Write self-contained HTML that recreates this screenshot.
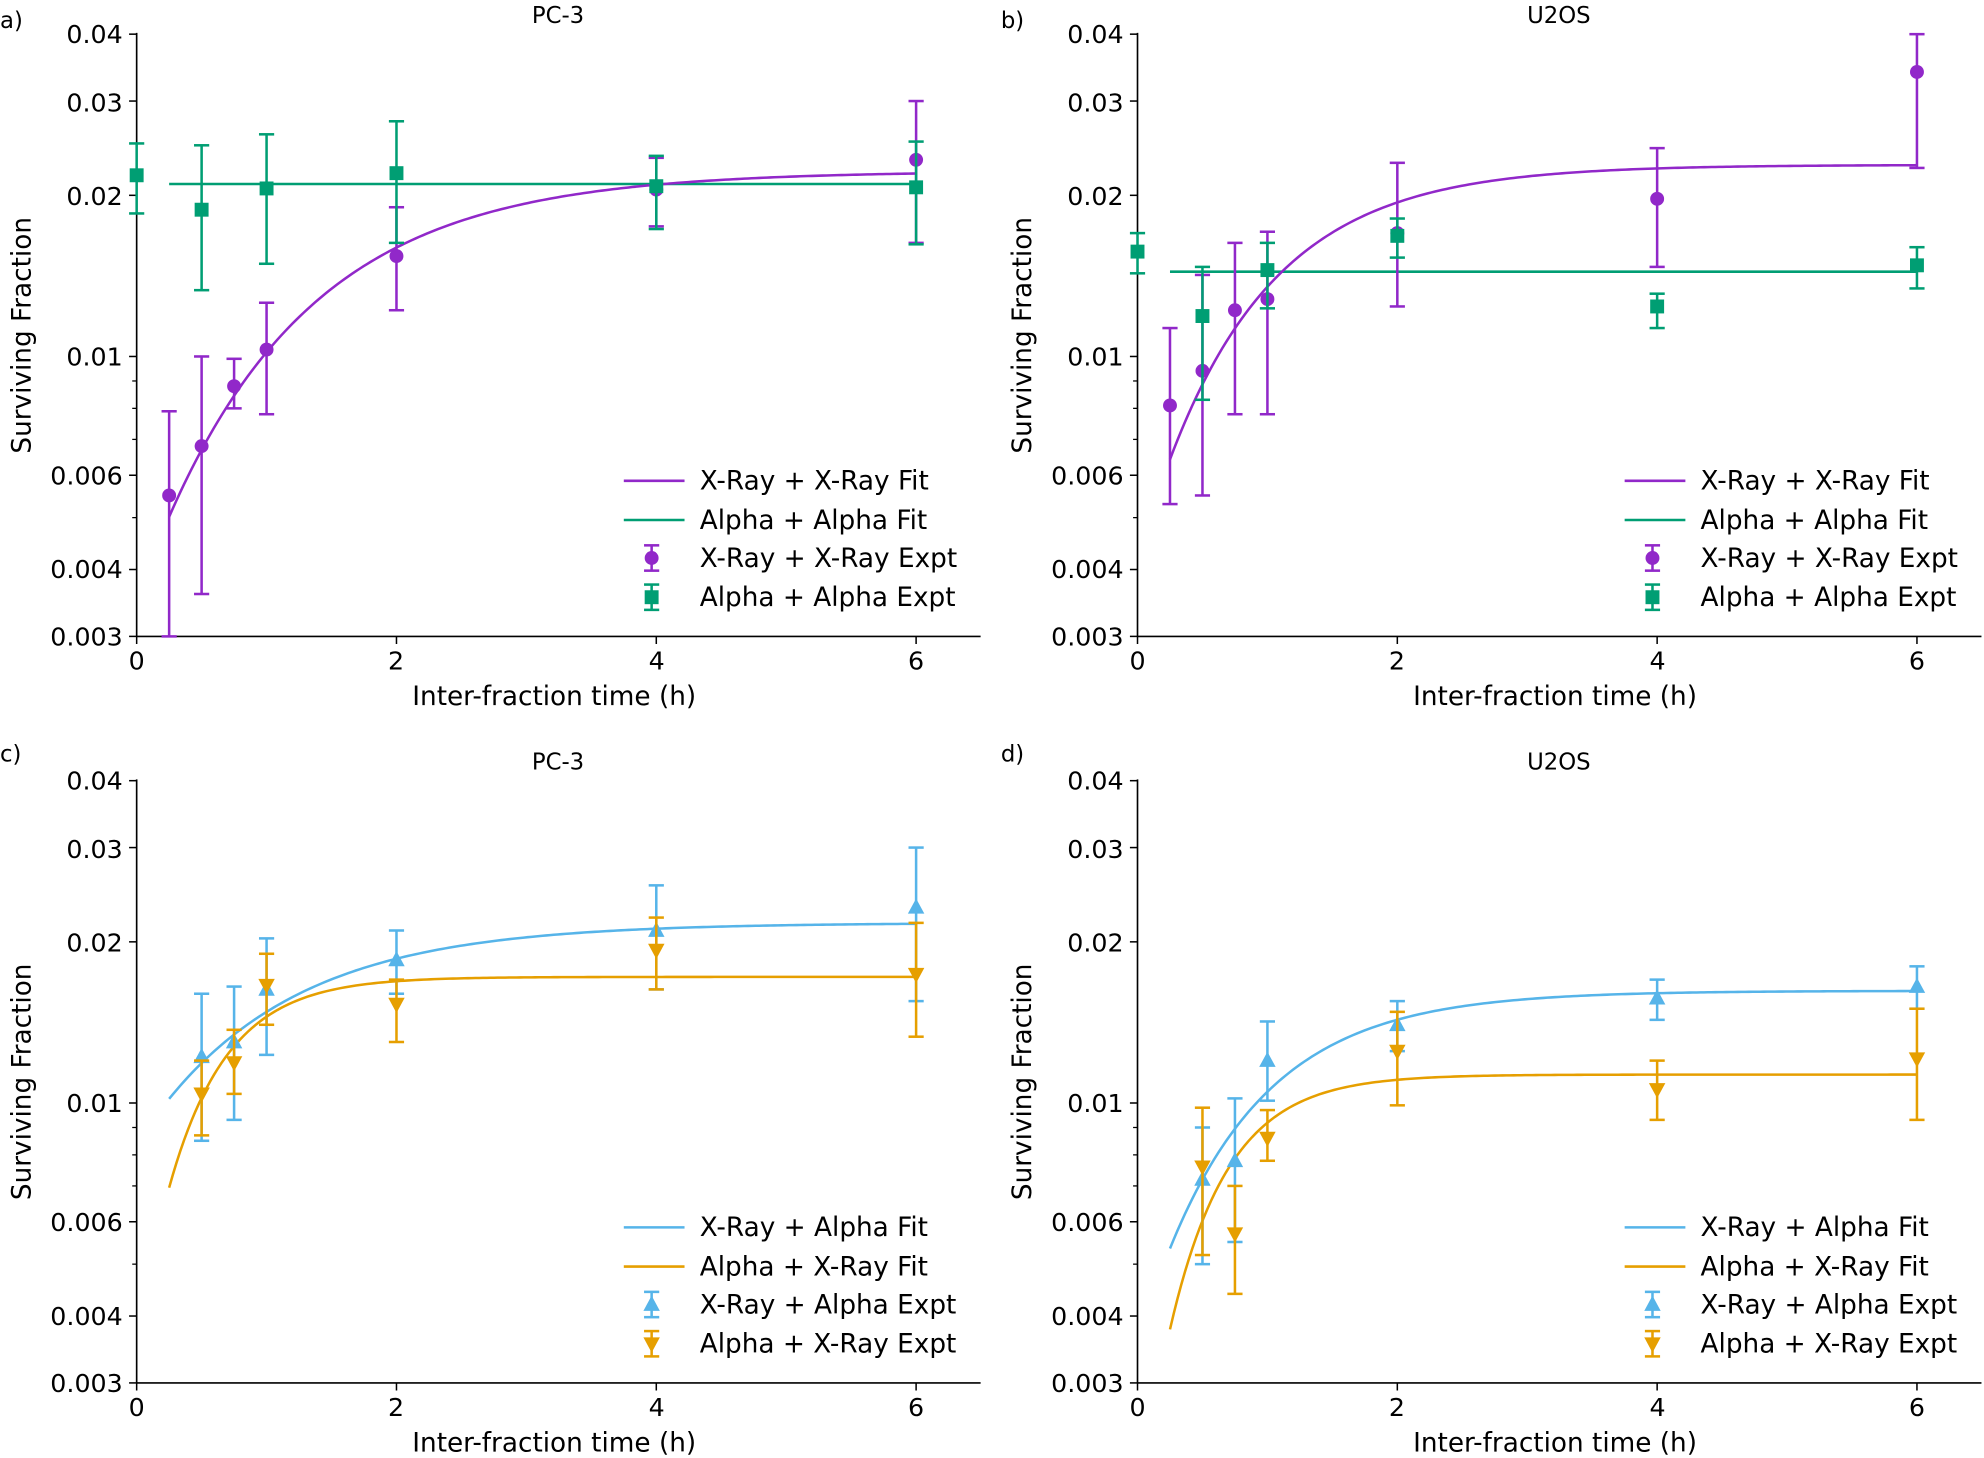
<!DOCTYPE html>
<html><head><meta charset="utf-8"><style>
html,body{margin:0;padding:0;background:#fff}
svg{display:block}
text{font-family:"DejaVu Sans","Liberation Sans",sans-serif;fill:#000}
.t{font-size:20px}
.pl{font-size:18px}
.ti{font-size:18px}
.al{font-size:20.8px}
.lg{font-size:20.8px}
</style></head><body>
<svg id="s" width="1984" height="1458" viewBox="0 0 1568 1152.3" xmlns="http://www.w3.org/2000/svg">
<g id="g"></g>
<g id="txt">
<text x="0" y="22" class="pl">a)</text><text x="441" y="18" class="ti" text-anchor="middle">PC-3</text>
<text x="791" y="22" class="pl">b)</text><text x="1232" y="18" class="ti" text-anchor="middle">U2OS</text>
<text x="0" y="602" class="pl">c)</text><text x="441" y="608" class="ti" text-anchor="middle">PC-3</text>
<text x="791" y="602" class="pl">d)</text><text x="1232" y="608" class="ti" text-anchor="middle">U2OS</text>

<text x="438" y="557" class="al" text-anchor="middle">Inter-fraction time (h)</text>
<text x="1229" y="557" class="al" text-anchor="middle">Inter-fraction time (h)</text>
<text x="438" y="1147" class="al" text-anchor="middle">Inter-fraction time (h)</text>
<text x="1229" y="1147" class="al" text-anchor="middle">Inter-fraction time (h)</text>
<text transform="translate(24,265) rotate(-90)" class="al" text-anchor="middle">Surviving Fraction</text>
<text transform="translate(815,265) rotate(-90)" class="al" text-anchor="middle">Surviving Fraction</text>
<text transform="translate(24,855) rotate(-90)" class="al" text-anchor="middle">Surviving Fraction</text>
<text transform="translate(815,855) rotate(-90)" class="al" text-anchor="middle">Surviving Fraction</text>

<text x="553" y="387" class="lg">X-Ray + X-Ray Fit</text><text x="553" y="418" class="lg">Alpha + Alpha Fit</text><text x="553" y="448" class="lg">X-Ray + X-Ray Expt</text><text x="553" y="479" class="lg">Alpha + Alpha Expt</text>
<text x="1344" y="387" class="lg">X-Ray + X-Ray Fit</text><text x="1344" y="418" class="lg">Alpha + Alpha Fit</text><text x="1344" y="448" class="lg">X-Ray + X-Ray Expt</text><text x="1344" y="479" class="lg">Alpha + Alpha Expt</text>
<text x="553" y="977" class="lg">X-Ray + Alpha Fit</text><text x="553" y="1008" class="lg">Alpha + X-Ray Fit</text><text x="553" y="1038" class="lg">X-Ray + Alpha Expt</text><text x="553" y="1069" class="lg">Alpha + X-Ray Expt</text>
<text x="1344" y="977" class="lg">X-Ray + Alpha Fit</text><text x="1344" y="1008" class="lg">Alpha + X-Ray Fit</text><text x="1344" y="1038" class="lg">X-Ray + Alpha Expt</text><text x="1344" y="1069" class="lg">Alpha + X-Ray Expt</text>
</g>
<g id="ticks">
<g class="t" text-anchor="end">
<text x="97" y="34">0.04</text><text x="97" y="88">0.03</text><text x="97" y="162">0.02</text><text x="97" y="289">0.01</text><text x="97" y="383">0.006</text><text x="97" y="457">0.004</text><text x="97" y="510">0.003</text>
<text x="888" y="34">0.04</text><text x="888" y="88">0.03</text><text x="888" y="162">0.02</text><text x="888" y="289">0.01</text><text x="888" y="383">0.006</text><text x="888" y="457">0.004</text><text x="888" y="510">0.003</text>
<text x="97" y="624">0.04</text><text x="97" y="678">0.03</text><text x="97" y="752">0.02</text><text x="97" y="879">0.01</text><text x="97" y="973">0.006</text><text x="97" y="1047">0.004</text><text x="97" y="1100">0.003</text>
<text x="888" y="624">0.04</text><text x="888" y="678">0.03</text><text x="888" y="752">0.02</text><text x="888" y="879">0.01</text><text x="888" y="973">0.006</text><text x="888" y="1047">0.004</text><text x="888" y="1100">0.003</text>
</g>
<g class="t" text-anchor="middle">
<text x="108" y="529">0</text><text x="313" y="529">2</text><text x="519" y="529">4</text><text x="724" y="529">6</text>
<text x="899" y="529">0</text><text x="1104" y="529">2</text><text x="1310" y="529">4</text><text x="1515" y="529">6</text>
<text x="108" y="1119">0</text><text x="313" y="1119">2</text><text x="519" y="1119">4</text><text x="724" y="1119">6</text>
<text x="899" y="1119">0</text><text x="1104" y="1119">2</text><text x="1310" y="1119">4</text><text x="1515" y="1119">6</text>
</g>
</g>
</svg>
<script>
var NS="http://www.w3.org/2000/svg",G=document.getElementById("g");
function el(n,a){var e=document.createElementNS(NS,n);for(var k in a)e.setAttribute(k,a[k]);G.appendChild(e);return e;}
var P="#9128c9",GR="#009e73",B="#56b4e9",O="#e69f00";
var PX=102.67,DEC=423.1;
function mk(ox,oy){return{X:function(t){return ox+t*PX},Y:function(v){return oy+(Math.log10(0.04)-Math.log10(v))*DEC}};}
var panels=[mk(108,27),mk(899,27),mk(108,617),mk(899,617)];
panels.forEach(function(p){
 var x0=p.X(0),yb=p.Y(0.003),yt=p.Y(0.04);
 el("line",{x1:x0,y1:yt-1,x2:x0,y2:yb,stroke:"#000","stroke-width":1.3});
 el("line",{x1:x0,y1:yb,x2:x0+667,y2:yb,stroke:"#000","stroke-width":1.3});
 [0.003,0.004,0.006,0.01,0.02,0.03,0.04].forEach(function(v){el("line",{x1:x0-6,x2:x0,y1:p.Y(v),y2:p.Y(v),stroke:"#000","stroke-width":1.2});});
 [0.005,0.007,0.008,0.009].forEach(function(v){el("line",{x1:x0-3.5,x2:x0,y1:p.Y(v),y2:p.Y(v),stroke:"#000","stroke-width":1});});
 [0,2,4,6].forEach(function(t){el("line",{x1:p.X(t),x2:p.X(t),y1:yb,y2:yb+6,stroke:"#000","stroke-width":1.2});});
});
function curve(p,Sinf,c,tau,col){var d="";for(var i=0;i<=200;i++){var t=0.25+5.75*i/200;var v=Sinf*Math.exp(-c*Math.exp(-t/tau));d+=(i?"L":"M")+p.X(t).toFixed(2)+","+p.Y(v).toFixed(2);}el("path",{d:d,fill:"none",stroke:col,"stroke-width":2});}
function hline(p,v,col){el("line",{x1:p.X(0.25),x2:p.X(6),y1:p.Y(v),y2:p.Y(v),stroke:col,"stroke-width":2});}
function marker(x,y,type,col){
 if(type=="o")el("circle",{cx:x,cy:y,r:5.5,fill:col});
 else if(type=="s")el("rect",{x:x-5.5,y:y-5.5,width:11,height:11,fill:col});
 else if(type=="^")el("polygon",{points:(x)+","+(y-7)+" "+(x-6.5)+","+(y+5)+" "+(x+6.5)+","+(y+5),fill:col});
 else el("polygon",{points:(x)+","+(y+7)+" "+(x-6.5)+","+(y-5)+" "+(x+6.5)+","+(y-5),fill:col});
}
function pts(p,data,type,col){data.forEach(function(d){var x=p.X(d[0]),y=p.Y(d[1]),y1=p.Y(Math.max(d[2],0.003)),y2=p.Y(Math.min(d[3],0.04));
 el("line",{x1:x,x2:x,y1:y1,y2:y2,stroke:col,"stroke-width":2});
 el("line",{x1:x-6,x2:x+6,y1:y1,y2:y1,stroke:col,"stroke-width":2});
 el("line",{x1:x-6,x2:x+6,y1:y2,y2:y2,stroke:col,"stroke-width":2});
 marker(x,y,type,col);});}
function legend(ox,oy,c1,c2,m1,m2){
 el("line",{x1:ox,x2:ox+48,y1:oy,y2:oy,stroke:c1,"stroke-width":2});
 el("line",{x1:ox,x2:ox+48,y1:oy+31,y2:oy+31,stroke:c2,"stroke-width":2});
 [[c1,m1,oy+61],[c2,m2,oy+92]].forEach(function(r){var x=ox+22,y=r[2];
  el("line",{x1:x,x2:x,y1:y-10,y2:y+10,stroke:r[0],"stroke-width":2});
  el("line",{x1:x-6,x2:x+6,y1:y-10,y2:y-10,stroke:r[0],"stroke-width":2});
  el("line",{x1:x-6,x2:x+6,y1:y+10,y2:y+10,stroke:r[0],"stroke-width":2});
  marker(x,y,r[1],r[0]);});
}
var a=panels[0],b=panels[1],c=panels[2],d=panels[3];
hline(a,0.021,GR);curve(a,0.0222,1.845,1.16,P);
pts(a,[[0.25,0.0055,0.003,0.0079],[0.5,0.0068,0.0036,0.0100],[0.75,0.0088,0.0080,0.0099],[1,0.0103,0.0078,0.0126],[2,0.0154,0.0122,0.019],[4,0.0205,0.0175,0.0235],[6,0.0233,0.0163,0.030]],"o",P);
pts(a,[[0,0.0218,0.0185,0.025],[0.5,0.0188,0.0133,0.0248],[1,0.0206,0.0149,0.026],[2,0.0220,0.0163,0.0275],[4,0.0208,0.0173,0.0237],[6,0.0207,0.0162,0.0252]],"s",GR);
hline(b,0.0144,GR);curve(b,0.0228,1.70,0.85,P);
pts(b,[[0.25,0.0081,0.0053,0.0113],[0.5,0.0094,0.0055,0.0142],[0.75,0.0122,0.0078,0.0163],[1,0.0128,0.0078,0.0171],[2,0.0170,0.0124,0.0230],[4,0.0197,0.0147,0.0245],[6,0.0340,0.0225,0.040]],"o",P);
pts(b,[[0,0.0157,0.0143,0.0170],[0.5,0.0119,0.0083,0.0147],[1,0.0145,0.0123,0.0163],[2,0.0168,0.0153,0.0181],[4,0.0124,0.0113,0.0131],[6,0.0148,0.0134,0.0160]],"s",GR);
curve(c,0.0217,0.95,1.1,B);curve(c,0.0172,1.58,0.45,O);
pts(c,[[0.5,0.0122,0.0085,0.0160],[0.75,0.0130,0.0093,0.0165],[1,0.0163,0.0123,0.0203],[2,0.0185,0.0160,0.0210],[4,0.0210,0.0163,0.0255],[6,0.0232,0.0155,0.0300]],"^",B);
pts(c,[[0.5,0.0104,0.0087,0.0120],[0.75,0.0119,0.0104,0.0137],[1,0.0166,0.0140,0.0190],[2,0.0153,0.0130,0.0170],[4,0.0193,0.0163,0.0222],[6,0.0174,0.0133,0.0217]],"v",O);
curve(d,0.0162,1.515,0.80,B);curve(d,0.0113,1.91,0.45,O);
pts(d,[[0.5,0.0072,0.0050,0.0090],[0.75,0.0078,0.0055,0.0102],[1,0.0120,0.0101,0.0142],[2,0.0140,0.0125,0.0155],[4,0.0157,0.0143,0.0170],[6,0.0165,0.0150,0.0180]],"^",B);
pts(d,[[0.5,0.0076,0.0052,0.0098],[0.75,0.0057,0.0044,0.0070],[1,0.0086,0.0078,0.0097],[2,0.0125,0.0099,0.0148],[4,0.0106,0.0093,0.0120],[6,0.0121,0.0093,0.0150]],"v",O);
legend(493,380,P,GR,"o","s");legend(1284,380,P,GR,"o","s");
legend(493,970,B,O,"^","v");legend(1284,970,B,O,"^","v");
</script>
</body></html>
